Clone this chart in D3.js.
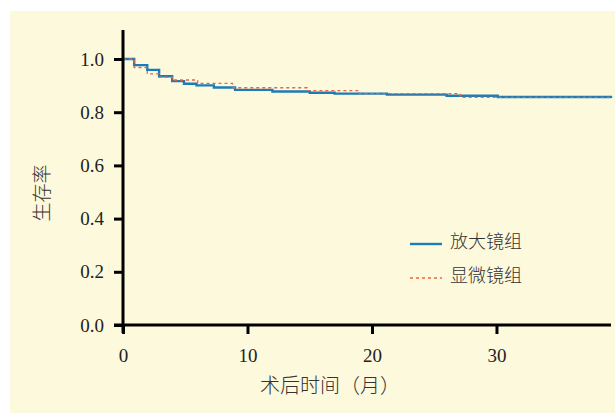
<!DOCTYPE html>
<html>
<head>
<meta charset="utf-8">
<script src="https://cdn.jsdelivr.net/npm/d3@7"></script>
<style>
  body { margin: 0; background: #fff; }
  text { font-family: "Liberation Serif", "Noto Sans CJK SC", serif; }
</style>
</head>
<body>
<div id="chart"></div>
<script>
// Kaplan-Meier steps (months, survival)
const blueTimes = [0, 0.9, 1.95, 2.9, 3.95, 4.9, 5.9, 7.3, 9.0, 12.0, 15.0, 17.0, 21.2, 26.0, 30.1, 39.2];
const blueSurv  = [1.0, 0.977, 0.959, 0.935, 0.917, 0.907, 0.901, 0.893, 0.884, 0.878, 0.873, 0.870, 0.866, 0.862, 0.857, 0.853];
const redTimes = [0, 0.9, 1.95, 2.9, 3.95, 6.0, 8.8, 14.8, 19.0, 27.1, 39.2];
const redSurv  = [1.0, 0.968, 0.944, 0.932, 0.921, 0.908, 0.892, 0.881, 0.870, 0.856, 0.856];
const seriesNames = ["放大镜组", "显微镜组"];
const xTicks = [0, 10, 20, 30];
const yTicks = [0, 0.2, 0.4, 0.6, 0.8, 1.0];

const width = 615, height = 415;

function createChart() {
  const svg = d3.select("#chart").append("svg")
    .attr("width", width)
    .attr("height", height);

  svg.append("rect")
    .attr("x", 10).attr("y", 11)
    .attr("width", width - 10).attr("height", 402)
    .attr("fill", "#fdf9dd");

  const x = d3.scaleLinear().domain([0, 39.2]).range([123, 611]);
  const y = d3.scaleLinear().domain([0, 1]).range([325, 59]);

  const line = d3.line()
    .x(d => x(d[0]))
    .y(d => y(d[1]))
    .curve(d3.curveStepAfter);

  const blue = blueTimes.map((t, i) => [t, blueSurv[i]]);
  const red = redTimes.map((t, i) => [t, redSurv[i]]);

  svg.append("path")
    .attr("d", line(blue))
    .attr("fill", "none")
    .attr("stroke", "#1b7db8")
    .attr("stroke-width", 2.4);

  svg.append("path")
    .attr("d", line(red))
    .attr("fill", "none")
    .attr("stroke", "#f2613f")
    .attr("stroke-width", 1.3)
    .attr("stroke-dasharray", "3,3");

  // y axis
  const yAxis = svg.append("g")
    .attr("transform", `translate(${x(0)},0)`)
    .call(d3.axisLeft(y).tickValues(yTicks).tickFormat(d3.format(".1f")).tickSize(9).tickSizeOuter(0));
  yAxis.select(".domain").attr("d", `M0,30V333`);

  // x axis
  const xAxis = svg.append("g")
    .attr("transform", `translate(0,${y(0)})`)
    .call(d3.axisBottom(x).tickValues(xTicks).tickSize(9).tickSizeOuter(0));
  xAxis.select(".domain").attr("d", `M${x(0) - 9},0H611`);

  svg.selectAll("g").attr("font-family", "Liberation Serif").attr("font-size", 19);
  svg.selectAll(".domain").attr("stroke", "#000").attr("stroke-width", 3);
  svg.selectAll(".tick line").attr("stroke", "#000").attr("stroke-width", 3);
  svg.selectAll(".tick text")
    .attr("fill", "#222")
    .style("font-size", "19px")
    .style("font-weight", "normal")
    .style("font-family", "'Liberation Serif'");
  yAxis.selectAll(".tick text").attr("x", -19);
  xAxis.selectAll(".tick text").attr("y", 24);

  // axis titles
  svg.append("text")
    .attr("x", 330).attr("y", 388)
    .attr("text-anchor", "middle")
    .attr("dominant-baseline", "middle")
    .attr("fill", "#333")
    .style("font-size", "20px")
    .style("font-weight", 300)
    .text("术后时间（月）");

  svg.append("text")
    .attr("transform", "translate(45,193) rotate(-90)")
    .attr("text-anchor", "middle")
    .attr("dominant-baseline", "middle")
    .attr("fill", "#333")
    .style("font-size", "19px")
    .style("font-weight", 300)
    .text("生存率");

  // legend
  const legend = svg.append("g");
  const colors = ["#1b7db8", "#f2613f"];
  seriesNames.forEach((name, i) => {
    const ly = 244 + i * 34;
    legend.append("line")
      .attr("x1", 410).attr("x2", 442)
      .attr("y1", ly).attr("y2", ly)
      .attr("stroke", colors[i])
      .attr("stroke-width", i === 0 ? 2.4 : 1.3)
      .attr("stroke-dasharray", i === 0 ? null : "3,3");
    legend.append("text")
      .attr("x", 450).attr("y", ly)
      .attr("dominant-baseline", "middle")
      .attr("fill", "#333")
      .style("font-size", "18px")
      .style("font-weight", 300)
      .text(name);
  });
}

createChart();
</script>
</body>
</html>
